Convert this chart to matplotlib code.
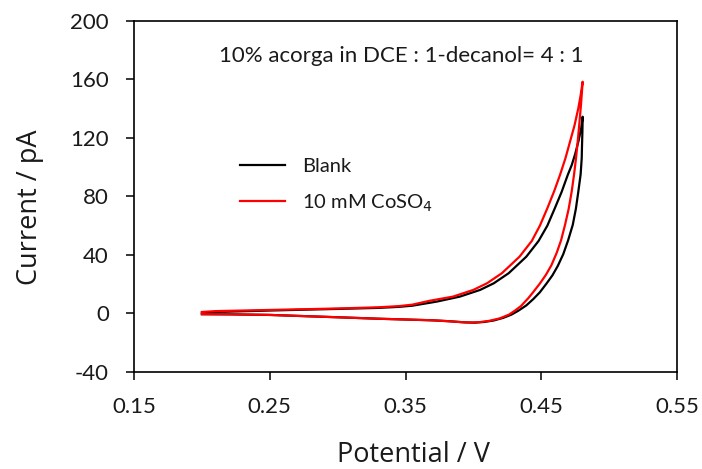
import matplotlib
matplotlib.use("Agg")
import matplotlib.pyplot as plt

# Cyclic voltammograms: forward (anodic) and reverse sweeps, potential in V, current in pA
blank_fwd_potential = [0.200, 0.210, 0.250, 0.281, 0.300, 0.330, 0.345, 0.355, 0.373,
                       0.390, 0.405, 0.415, 0.426, 0.439, 0.448, 0.4545, 0.460, 0.4650,
                       0.4695, 0.4725, 0.4750, 0.4775, 0.4795, 0.4805]
blank_fwd_current = [0.5, 1.0, 2.0, 2.7, 3.1, 3.8, 4.5, 5.3, 8.1,
                     11.5, 16.1, 20.6, 27.5, 38.8, 49.5, 60.0, 71.9, 83.0,
                     94.6, 101.5, 109.0, 118.0, 127.0, 134.4]
blank_rev_potential = [0.4805, 0.4803, 0.4800, 0.4798, 0.4790, 0.4773, 0.4755, 0.4732,
                       0.4698, 0.4662, 0.4622, 0.4582, 0.4540, 0.4490, 0.4441, 0.4390,
                       0.4330, 0.4280, 0.4220, 0.4150, 0.4080, 0.4010, 0.3940, 0.3820,
                       0.3700, 0.3450, 0.3300, 0.3000, 0.2810, 0.2500, 0.2200, 0.2000]
blank_rev_current = [134.4, 124.0, 114.0, 106.0, 95.0, 83.2, 71.5, 60.5,
                     50.0, 40.5, 32.5, 26.0, 20.6, 14.5, 9.8, 5.5,
                     1.8, -0.8, -3.0, -4.8, -5.8, -6.3, -6.1, -5.3,
                     -4.7, -4.0, -3.6, -2.6, -2.0, -1.0, -0.6, -0.5]

cobalt_fwd_potential = [0.200, 0.210, 0.250, 0.281, 0.300, 0.330, 0.345, 0.355, 0.368,
                        0.385, 0.400, 0.410, 0.421, 0.434, 0.443, 0.449, 0.4545, 0.4595,
                        0.4638, 0.4678, 0.4712, 0.4745, 0.4773, 0.4790, 0.4805]
cobalt_fwd_current = [1.0, 1.6, 2.4, 3.0, 3.4, 4.2, 5.0, 6.0, 8.7,
                      11.5, 16.1, 20.6, 27.5, 38.8, 49.5, 60.0, 71.9, 83.5,
                      94.6, 106.0, 117.4, 128.5, 140.2, 149.0, 158.3]
cobalt_rev_potential = [0.4805, 0.4793, 0.4780, 0.4768, 0.4756, 0.4741, 0.4724, 0.4702,
                        0.4675, 0.4646, 0.4614, 0.4575, 0.4535, 0.4491, 0.4440, 0.4405,
                        0.4350, 0.4307, 0.4262, 0.4196, 0.4120, 0.4049, 0.3980, 0.3920,
                        0.3800, 0.3680, 0.3450, 0.3300, 0.3000, 0.2810, 0.2500, 0.2200,
                        0.2000]
cobalt_rev_current = [158.3, 143.0, 129.0, 117.0, 106.0, 94.5, 83.2, 71.5,
                      60.5, 50.0, 41.5, 33.0, 26.5, 20.6, 14.5, 10.5,
                      5.0, 2.0, -0.8, -3.3, -5.0, -5.9, -6.2, -6.0,
                      -5.2, -4.6, -4.0, -3.6, -2.6, -2.0, -1.0, -0.6,
                      -0.5]

x_ticks = [0.15, 0.25, 0.35, 0.45, 0.55]
y_ticks = [-40, 0, 40, 80, 120, 160, 200]
series_labels = ["Blank", "10 mM CoSO$_4$"]
series_colors = ["#000000", "#ff0000"]
annotation = "10% acorga in DCE : 1-decanol= 4 : 1"

tick_font = "Lato"
label_font = "Open Sans"
text_color = "#1a1a1a"

fig = plt.figure(figsize=(7.02, 4.69), dpi=100)
ax = fig.add_axes([0.1909, 0.2068, 0.7735, 0.7491])

curves = [
    (blank_fwd_potential + blank_rev_potential, blank_fwd_current + blank_rev_current),
    (cobalt_fwd_potential + cobalt_rev_potential, cobalt_fwd_current + cobalt_rev_current),
]
for (xs, ys), lab, col in zip(curves, series_labels, series_colors):
    ax.plot(xs, ys, color=col, lw=1.6, label=lab, solid_joinstyle="round")

ax.set_xlim(0.15, 0.55)
ax.set_ylim(-40, 200)
ax.set_xticks(x_ticks)
ax.set_yticks(y_ticks)
ax.set_xticklabels([f"{v:.2f}" for v in x_ticks])
ax.set_yticklabels([str(v) for v in y_ticks])
ax.tick_params(direction="out", length=6, width=1.1, labelsize=16, pad=12)
for lab in ax.get_xticklabels() + ax.get_yticklabels():
    lab.set_fontfamily(tick_font)
    lab.set_color(text_color)
for sp in ax.spines.values():
    sp.set_linewidth(1.2)

ax.set_xlabel("Potential / V", fontsize=19.5, family=label_font, color=text_color)
ax.set_ylabel("Current / pA", fontsize=19.5, family=label_font, color=text_color)
ax.xaxis.set_label_coords(0.5147, -0.197)
ax.yaxis.set_label_coords(-0.166, 0.47)

ax.text(0.347, 171.8, annotation, ha="center", va="baseline", fontsize=16,
        family=tick_font, color=text_color)

leg = ax.legend(loc="upper left", bbox_to_anchor=(240 / 702, 1 - 158 / 469),
                bbox_transform=fig.transFigure, frameon=False,
                prop={"family": tick_font, "size": 14.5}, handlelength=2.24,
                handletextpad=0.85, labelspacing=0.85, borderpad=0, borderaxespad=0)
for t in leg.get_texts():
    t.set_color(text_color)

fig.savefig("out.png", dpi=100)
